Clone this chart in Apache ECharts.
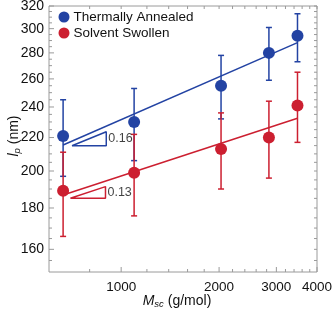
<!DOCTYPE html>
<html><head><meta charset="utf-8">
<script src="https://cdn.jsdelivr.net/npm/echarts@6/dist/echarts.min.js"></script>
<style>html,body{margin:0;padding:0;background:#fff}#c{width:333px;height:310px}</style>
</head><body><div id="c"></div>
<script>
// ---- data ----
const mscValues = [663, 1096, 2028, 2846, 3484];
const annealedLp = [221, 230, 255, 280, 294];
const annealedLow = [197, 206, 232, 259, 273];
const annealedHigh = [245, 253, 278, 301, 313];
const swollenLp = [189, 199, 213, 220, 241];
const swollenLow = [166, 176, 190, 196, 217];
const swollenHigh = [211, 222, 236, 244, 265];
const fitX = [663, 3484];
const annealedFit = [215.4, 288.3];
const swollenFit = [186.8, 232.4];
const annealedTriX = [706, 900, 900, 706];
const annealedTriY = [214.9, 214.9, 223.7, 214.9];
const swollenTriX = [698, 895, 895, 698];
const swollenTriY = [185.1, 185.1, 191.3, 185.1];
const slopeLabels = ['0.16', '0.13'];
const xTickLabels = [1000, 2000, 3000, 4000];
const xMinorTicks = [800, 1200, 1400, 1600, 1800, 2200, 2400, 2600, 2800, 3200, 3400, 3600, 3800];
const yTickLabels = [160, 180, 200, 220, 240, 260, 280, 300, 320];
const yMinorTicks = [155, 165, 170, 175, 185, 190, 195, 205, 210, 215, 225, 230, 235, 245, 250, 255, 265, 270, 275, 285, 290, 295, 305, 310, 315];
const X_MIN = 600, X_MAX = 4000, Y_MIN = 150, Y_MAX = 320;

const BLUE = '#2343a3';
const RED = '#cc1f30';
const FRAME = '#9a9a9a';
const FONT = '"Liberation Sans", Arial, Helvetica, sans-serif';

function zip(xs, ys) { return xs.map((x, i) => [x, ys[i]]); }
function errData(lo, hi) { return mscValues.map((x, i) => [x, lo[i], hi[i]]); }

function errRender(color) {
  return function (params, api) {
    const x = api.value(0);
    const p1 = api.coord([x, api.value(1)]);
    const p2 = api.coord([x, api.value(2)]);
    const hw = 3;
    const st = { stroke: color, lineWidth: 1.5 };
    return { type: 'group', children: [
      { type: 'line', shape: { x1: p1[0], y1: p1[1], x2: p2[0], y2: p2[1] }, style: st },
      { type: 'line', shape: { x1: p1[0] - hw, y1: p1[1], x2: p1[0] + hw, y2: p1[1] }, style: st },
      { type: 'line', shape: { x1: p2[0] - hw, y1: p2[1], x2: p2[0] + hw, y2: p2[1] }, style: st }
    ]};
  };
}
// frame ticks (inside), drawn on all four edges through the axis scales
const xTickData = xTickLabels.map(v => [v, 1]).concat(xMinorTicks.map(v => [v, 0]));
const yTickData = yTickLabels.map(v => [v, 1]).concat(yMinorTicks.map(v => [v, 0]));
function xTickRender(params, api) {
  const cs = params.coordSys;
  const px = api.coord([api.value(0), Y_MIN])[0];
  const major = api.value(1) === 1;
  const lb = major ? 5 : 3, lt = 3;
  const st = { stroke: FRAME, lineWidth: 1 };
  return { type: 'group', children: [
    { type: 'line', shape: { x1: px, y1: cs.y + cs.height, x2: px, y2: cs.y + cs.height - lb }, style: st },
    { type: 'line', shape: { x1: px, y1: cs.y, x2: px, y2: cs.y + lt }, style: st }
  ]};
}
function yTickRender(params, api) {
  const cs = params.coordSys;
  const py = api.coord([X_MIN, api.value(0)])[1];
  const major = api.value(1) === 1;
  const ll = major ? 5 : 3, lr = 3;
  const st = { stroke: FRAME, lineWidth: 1 };
  return { type: 'group', children: [
    { type: 'line', shape: { x1: cs.x, y1: py, x2: cs.x + ll, y2: py }, style: st },
    { type: 'line', shape: { x1: cs.x + cs.width, y1: py, x2: cs.x + cs.width - lr, y2: py }, style: st }
  ]};
}

const titleRich = {
  i: { fontStyle: 'italic', fontSize: 14, fontFamily: FONT, fill: '#111', color: '#111' },
  s: { fontStyle: 'italic', fontSize: 9.5, fontFamily: FONT, fill: '#111', color: '#111', padding: [7, 0, 0, 0] },
  n: { fontSize: 14, fontFamily: FONT, fill: '#111', color: '#111' }
};

const chart = echarts.init(document.getElementById('c'), null, { renderer: 'canvas' });
chart.setOption({
  animation: false,
  textStyle: { fontFamily: FONT },
  grid: { left: 49, right: 16, top: 6, bottom: 38, containLabel: false, outerBoundsMode: 'none',
          show: true, borderColor: FRAME, borderWidth: 1, backgroundColor: 'transparent' },
  legend: {
    orient: 'vertical', left: 58.5, top: 10, padding: 0, itemWidth: 11, itemHeight: 11, itemGap: 2,
    icon: 'circle',
    textStyle: { fontSize: 13.5, color: '#111', fontFamily: FONT, padding: [0, 0, 0, -1] },
    data: ['Thermally Annealed', 'Solvent Swollen']
  },
  xAxis: {
    type: 'log', min: X_MIN, max: X_MAX, position: 'bottom',
    splitLine: { show: false }, minorTick: { show: false },
    axisLine: { show: false, onZero: false },
    axisTick: { show: false },
    axisLabel: { show: true, customValues: xTickLabels, fontSize: 13.5, color: '#111', margin: 8, fontFamily: FONT,
      formatter: v => String(Math.round(v)) }
  },
  yAxis: {
    type: 'log', min: Y_MIN, max: Y_MAX, position: 'left',
    splitLine: { show: false }, minorTick: { show: false },
    axisLine: { show: false, onZero: false },
    axisTick: { show: false },
    axisLabel: { show: true, customValues: yTickLabels, fontSize: 14, color: '#111', margin: 5, fontFamily: FONT,
      formatter: v => String(Math.round(v)) }
  },
  graphic: [
    { type: 'text', x: 177, y: 301, silent: true,
      style: { text: '{i|M}{s|sc}{n| (g/mol)}', rich: titleRich, align: 'center', verticalAlign: 'middle', fill: '#111' } },
    { type: 'text', x: 14, y: 136, rotation: Math.PI / 2, silent: true,
      style: { text: '{i|l}{s|p}{n| (nm)}', rich: titleRich, align: 'center', verticalAlign: 'middle', fill: '#111' } }
  ],
  series: [
    { type: 'custom', renderItem: xTickRender, data: xTickData, encode: { x: 0 }, silent: true, z: 1 },
    { type: 'custom', renderItem: yTickRender, data: yTickData, encode: { y: 0 }, silent: true, z: 1 },
    { type: 'line', data: zip(fitX, annealedFit), symbol: 'none', lineStyle: { color: BLUE, width: 1.5 }, z: 2 },
    { type: 'line', data: zip(fitX, swollenFit), symbol: 'none', lineStyle: { color: RED, width: 1.5 }, z: 2 },
    { type: 'line', data: zip(annealedTriX, annealedTriY), symbol: 'none', lineStyle: { color: BLUE, width: 1.5 }, z: 2 },
    { type: 'line', data: zip(swollenTriX, swollenTriY), symbol: 'none', lineStyle: { color: RED, width: 1.5 }, z: 2 },
    { type: 'scatter', symbolSize: 0, z: 3,
      data: [
        { value: [annealedTriX[1], Math.sqrt(annealedTriY[1] * annealedTriY[2])], label: { formatter: slopeLabels[0] } },
        { value: [swollenTriX[1], Math.sqrt(swollenTriY[1] * swollenTriY[2])], label: { formatter: slopeLabels[1] } }
      ],
      label: { show: true, position: 'right', distance: 2, fontSize: 12.5, color: '#111', fontFamily: FONT } },
    { type: 'custom', renderItem: errRender(BLUE), data: errData(annealedLow, annealedHigh), encode: { x: 0, y: [1, 2] }, z: 3 },
    { type: 'custom', renderItem: errRender(RED), data: errData(swollenLow, swollenHigh), encode: { x: 0, y: [1, 2] }, z: 3 },
    { name: 'Thermally Annealed', type: 'scatter', data: zip(mscValues, annealedLp), symbolSize: 12, itemStyle: { color: BLUE, opacity: 1 }, z: 4 },
    { name: 'Solvent Swollen', type: 'scatter', data: zip(mscValues, swollenLp), symbolSize: 12, itemStyle: { color: RED, opacity: 1 }, z: 4 }
  ]
});
</script></body></html>
